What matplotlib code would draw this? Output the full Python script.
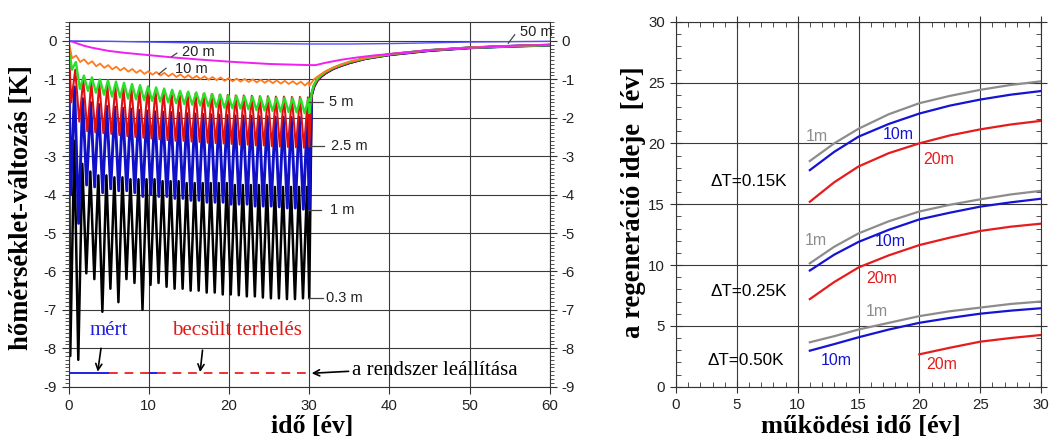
import matplotlib
matplotlib.use("Agg")
import matplotlib.pyplot as plt
import numpy as np
from matplotlib.ticker import MultipleLocator

plt.rcParams["axes.unicode_minus"] = False
plt.rcParams["font.family"] = ["Liberation Sans", "DejaVu Sans"]
SERIF = ["Liberation Serif", "DejaVu Serif"]

# ---------------- left panel: temperature change at several depths ----------------
years = np.arange(30)  # operating years 0..29, one heating/cooling cycle each

# annual minima / maxima [K]
trough_03 = [-8.2, -8.3, -6.05, -6.2, -7.05, -6.45, -6.8, -6.2, -6.3, -7.0,
             -6.35, -6.3, -6.4, -6.45, -6.45, -6.5, -6.5, -6.55, -6.55, -6.6,
             -6.6, -6.62, -6.65, -6.65, -6.68, -6.7, -6.7, -6.72, -6.72, -6.7]
peak_03 = [-2.6, -3.2, -3.4, -3.5, -3.5, -3.55, -3.55, -3.6, -3.6, -3.6,
           -3.6, -3.65, -3.65, -3.65, -3.7, -3.7, -3.7, -3.7, -3.7, -3.7,
           -3.75, -3.75, -3.75, -3.75, -3.75, -3.8, -3.8, -3.8, -3.8, -3.8]
trough_1 = [-4.0, -4.75, -3.75, -3.8, -3.95, -3.85, -3.9, -3.9, -3.95, -4.05,
            -4.0, -4.05, -4.05, -4.1, -4.1, -4.15, -4.15, -4.2, -4.2, -4.2,
            -4.25, -4.25, -4.25, -4.3, -4.3, -4.3, -4.32, -4.35, -4.35, -4.38]
peak_1 = [-1.2, -1.5, -1.6, -1.65, -1.7, -1.72, -1.75, -1.77, -1.8, -1.82,
          -1.84, -1.85, -1.86, -1.88, -1.89, -1.9, -1.91, -1.92, -1.93, -1.94,
          -1.95, -1.95, -1.96, -1.97, -1.97, -1.98, -1.98, -1.99, -1.99, -2.0]
trough_25 = [-1.6, -2.1, -2.35, -2.38, -2.4, -2.42, -2.45, -2.48, -2.5, -2.52,
             -2.54, -2.56, -2.58, -2.6, -2.6, -2.62, -2.63, -2.65, -2.66, -2.67,
             -2.68, -2.7, -2.7, -2.72, -2.72, -2.74, -2.75, -2.76, -2.77, -2.78]
peak_25 = [-0.75, -1.0, -1.08, -1.12, -1.16, -1.2, -1.22, -1.25, -1.27, -1.29,
           -1.3, -1.32, -1.33, -1.35, -1.36, -1.37, -1.38, -1.39, -1.4, -1.41,
           -1.42, -1.42, -1.43, -1.44, -1.44, -1.45, -1.45, -1.46, -1.46, -1.47]
trough_5 = [-0.75, -1.25, -1.3, -1.35, -1.4, -1.45, -1.47, -1.5, -1.52, -1.54,
            -1.56, -1.58, -1.6, -1.62, -1.64, -1.66, -1.68, -1.7, -1.72, -1.74,
            -1.75, -1.76, -1.78, -1.8, -1.81, -1.82, -1.84, -1.85, -1.86, -1.88]
peak_5 = [-0.55, -0.9, -0.95, -1.0, -1.03, -1.06, -1.09, -1.12, -1.15, -1.18,
          -1.21, -1.24, -1.27, -1.3, -1.32, -1.34, -1.36, -1.38, -1.4, -1.42,
          -1.43, -1.44, -1.45, -1.46, -1.47, -1.48, -1.48, -1.49, -1.49, -1.5]
trough_10 = [-0.45, -0.55, -0.6, -0.66, -0.7, -0.74, -0.77, -0.8, -0.83, -0.86,
             -0.88, -0.9, -0.92, -0.94, -0.96, -0.98, -0.99, -1.01, -1.02, -1.04,
             -1.05, -1.06, -1.07, -1.08, -1.09, -1.1, -1.11, -1.12, -1.13, -1.16]
peak_10 = [-0.38, -0.48, -0.53, -0.59, -0.63, -0.67, -0.7, -0.73, -0.76, -0.79,
           -0.81, -0.83, -0.85, -0.87, -0.89, -0.91, -0.92, -0.94, -0.95, -0.97,
           -0.98, -0.99, -1.0, -1.01, -1.02, -1.03, -1.04, -1.05, -1.06, -1.07]

# value at shutdown (t = 30 years)
end_values = {"0.3": -6.7, "1": -4.4, "2.5": -2.75, "5": -1.88, "10": -1.17}

# recovery after shutdown
rec_t = [30.3, 30.6, 31.0, 31.5, 32.0, 33.0, 34.0, 35.0, 37.0, 40.0, 45.0, 50.0, 55.0, 60.0]
rec_25 = [-1.40, -1.18, -1.03, -0.92, -0.84, -0.72, -0.64, -0.57, -0.46, -0.36, -0.25, -0.18, -0.14, -0.11]
rec_5 = [-1.35, -1.13, -0.99, -0.89, -0.81, -0.70, -0.62, -0.55, -0.45, -0.35, -0.24, -0.18, -0.14, -0.11]
rec_10 = [-1.08, -1.00, -0.93, -0.86, -0.79, -0.69, -0.61, -0.54, -0.44, -0.34, -0.24, -0.17, -0.13, -0.10]

# smooth deep curves
t_20 = [0, 0.5, 1, 2, 3, 5, 7, 10, 13, 16, 20, 25, 30, 30.8, 32, 34, 36, 38, 40, 45, 50, 55, 60]
v_20 = [0, -0.02, -0.06, -0.13, -0.18, -0.26, -0.31, -0.37, -0.43, -0.48, -0.54, -0.6, -0.63,
        -0.63, -0.57, -0.49, -0.43, -0.38, -0.34, -0.24, -0.18, -0.13, -0.1]
t_50 = [0, 5, 10, 15, 20, 25, 30, 35, 40, 45, 50, 55, 60]
v_50 = [0, -0.01, -0.03, -0.05, -0.06, -0.07, -0.08, -0.08, -0.07, -0.05, -0.03, -0.02, -0.01]

# load history bar
load_level = -8.65
measured_spans = [(0, 5), (10, 11)]
estimated_spans = [(5, 10), (11, 30)]

# ---------------- right panel: regeneration time ----------------
op_x = [11, 13, 15, 17.5, 20, 22.5, 25, 27.5, 30]
op_x_late = [20, 22.5, 25, 27.5, 30]
reg_015 = {
    "1m": [18.55, 20.0, 21.2, 22.4, 23.3, 23.9, 24.4, 24.8, 25.1],
    "10m": [17.8, 19.3, 20.55, 21.6, 22.45, 23.1, 23.6, 24.0, 24.3],
    "20m": [15.2, 16.8, 18.1, 19.2, 20.0, 20.65, 21.15, 21.55, 21.85],
}
reg_025 = {
    "1m": [10.14, 11.5, 12.6, 13.6, 14.4, 14.95, 15.4, 15.8, 16.1],
    "10m": [9.55, 10.85, 11.9, 12.9, 13.75, 14.3, 14.8, 15.15, 15.45],
    "20m": [7.2, 8.6, 9.8, 10.8, 11.64, 12.25, 12.8, 13.15, 13.4],
}
reg_050 = {
    "1m": [3.65, 4.15, 4.7, 5.25, 5.8, 6.2, 6.5, 6.8, 7.0],
    "10m": [2.96, 3.5, 4.06, 4.7, 5.25, 5.65, 6.0, 6.25, 6.45],
    "20m": [2.66, 3.2, 3.7, 4.0, 4.25],
}

C_GRAY, C_BLUE, C_RED = "#8c8c8c", "#1414d2", "#e61c1c"


def seasonal(troughs, peaks, phase, end, rec):
    t, v = [0.0], [0.0]
    for n, lo, hi in zip(years, troughs, peaks):
        t += [n + phase, n + phase + 0.5]
        v += [lo, hi]
    t += [30.0] + list(rec_t)
    v += [end] + list(rec)
    return t, v


fig = plt.figure(figsize=(10.53, 4.41), dpi=100)
ax1 = fig.add_axes([68.5 / 1053, 1 - 386.7 / 441, 481.5 / 1053, 365 / 441])
ax2 = fig.add_axes([676 / 1053, 1 - 386.7 / 441, 365 / 1053, 365 / 441])

# --- left panel ---
ax1.plot(*seasonal(trough_03, peak_03, 0.22, end_values["0.3"], rec_25), color="black", lw=1.8)
ax1.plot(*seasonal(trough_1, peak_1, 0.26, end_values["1"], rec_25), color="#1010c8", lw=2.1)
ax1.plot(*seasonal(trough_25, peak_25, 0.34, end_values["2.5"], rec_25), color="#e01010", lw=1.5)
ax1.plot(*seasonal(trough_5, peak_5, 0.42, end_values["5"], rec_5), color="#28e028", lw=1.7)
ax1.plot(*seasonal(trough_10, peak_10, 0.45, end_values["10"], rec_10), color="#ff7a20", lw=1.3)
ax1.plot(t_20, v_20, color="#f020f0", lw=1.4)
ax1.plot(t_50, v_50, color="#5050ff", lw=1.0)

for a, b in measured_spans:
    ax1.plot([a, b], [load_level, load_level], color="#2020e0", lw=1.4)
for a, b in estimated_spans:
    ax1.plot([a, b], [load_level, load_level], color="#f03030", lw=1.4, ls=(0, (4.5, 3.5)))

depth_labels = [
    ("20 m", (12.86, -0.41), (13.5, -0.32), (14.1, -0.28)),
    ("10 m", (11.28, -0.86), (12.15, -0.71), (13.3, -0.74)),
    ("5 m", (30.0, -1.6), (31.75, -1.6), (32.5, -1.6)),
    ("2.5 m", (30.0, -2.73), (31.8, -2.73), (32.7, -2.73)),
    ("1 m", (29.9, -4.4), (31.5, -4.4), (32.6, -4.4)),
    ("0.3 m", (29.9, -6.7), (31.7, -6.7), (32.1, -6.7)),
    ("50 m", (54.8, -0.06), (55.6, 0.16), (56.3, 0.24)),
]
for text, p0, p1, pt in depth_labels:
    ax1.plot([p0[0], p1[0]], [p0[1], p1[1]], color="#444444", lw=0.9, clip_on=False)
    ax1.text(pt[0], pt[1], text, fontsize=10.5, color="#222222", va="center", ha="left",
             clip_on=False)

ax1.text(4.96, -7.53, "mért", color="#2020e0", fontsize=15, family=SERIF, ha="center", va="center")
ax1.text(21.0, -7.53, "becsült terhelés", color="#e01818", fontsize=15, family=SERIF,
         ha="center", va="center")
ax1.text(35.3, -8.57, "a rendszer leállítása", color="black", fontsize=15, family=SERIF,
         ha="left", va="center")
arrow = dict(arrowstyle="->", color="black", lw=1.2, shrinkA=0, shrinkB=0, mutation_scale=11)
ax1.annotate("", xy=(3.64, -8.61), xytext=(4.05, -8.0), arrowprops=arrow)
ax1.annotate("", xy=(16.4, -8.62), xytext=(16.7, -8.05), arrowprops=arrow)
ax1.annotate("", xy=(30.3, -8.65), xytext=(34.9, -8.6), arrowprops=arrow)

ax1.set_xlim(0, 60)
ax1.set_ylim(-9, 0.5)
ax1.xaxis.set_major_locator(MultipleLocator(10))
ax1.yaxis.set_major_locator(MultipleLocator(1))
ax1.yaxis.set_minor_locator(MultipleLocator(0.1))
ax1.grid(True, which="major", color="#3a3a3a", lw=0.8)
ax1.tick_params(axis="y", which="both", left=True, right=True, labelleft=True, labelright=True,
                direction="out", colors="#333333", labelcolor="#222222", labelsize=10.8)
ax1.tick_params(axis="y", which="major", length=5, width=0.8)
ax1.tick_params(axis="y", which="minor", length=3, width=0.6)
ax1.tick_params(axis="x", which="major", direction="out", length=5, width=0.8,
                colors="#333333", labelcolor="#222222", labelsize=10.8)
for s in ax1.spines.values():
    s.set_color("#333333")
    s.set_linewidth(0.8)

fig.text(22 / 1053, 1 - 208 / 441, "hőmérséklet-változás [K]", rotation=90, ha="center",
         va="center", fontsize=19.2, fontweight="bold", family=SERIF)
fig.text(312 / 1053, 1 - 427 / 441, "idő [év]", ha="center", va="center", fontsize=18.5,
         fontweight="bold", family=SERIF)

# --- right panel ---
for group in (reg_015, reg_025, reg_050):
    ax2.plot(op_x, group["1m"], color=C_GRAY, lw=1.6)
    ax2.plot(op_x, group["10m"], color=C_BLUE, lw=1.6)
    ax2.plot(op_x if len(group["20m"]) == len(op_x) else op_x_late, group["20m"],
             color=C_RED, lw=1.6)

right_labels = [
    ("1m", 11.56, 20.55, C_GRAY), ("10m", 18.27, 20.7, C_BLUE), ("20m", 21.56, 18.68, C_RED),
    ("1m", 11.5, 12.05, C_GRAY), ("10m", 17.6, 11.9, C_BLUE), ("20m", 16.9, 8.9, C_RED),
    ("1m", 16.5, 6.2, C_GRAY), ("10m", 13.2, 2.19, C_BLUE), ("20m", 21.8, 1.8, C_RED),
]
for text, x, y, c in right_labels:
    ax2.text(x, y, text, color=c, fontsize=11.5, ha="center", va="center")
for text, x, y in [("ΔT=0.15K", 5.94, 16.85), ("ΔT=0.25K", 5.94, 7.8), ("ΔT=0.50K", 5.75, 2.14)]:
    ax2.text(x, y, text, color="black", fontsize=12.3, ha="center", va="center")

ax2.set_xlim(0, 30)
ax2.set_ylim(0, 30)
ax2.xaxis.set_major_locator(MultipleLocator(5))
ax2.yaxis.set_major_locator(MultipleLocator(5))
ax2.xaxis.set_minor_locator(MultipleLocator(1))
ax2.yaxis.set_minor_locator(MultipleLocator(1))
ax2.grid(True, which="major", color="#3a3a3a", lw=0.8)
ax2.tick_params(which="both", top=True, right=True, colors="#333333", labelcolor="#222222",
                labelsize=10.8)
ax2.tick_params(which="major", direction="inout", length=9, width=0.8)
ax2.tick_params(which="minor", direction="in", length=3.5, width=0.6)
for s in ax2.spines.values():
    s.set_color("#333333")
    s.set_linewidth(0.8)

fig.text(634 / 1053, 1 - 202 / 441, "a regeneráció ideje  [év]", rotation=90, ha="center",
         va="center", fontsize=19.3, fontweight="bold", family=SERIF)
fig.text(861 / 1053, 1 - 427 / 441, "működési idő [év]", ha="center", va="center", fontsize=19,
         fontweight="bold", family=SERIF)

fig.savefig("out.png", dpi=100)
